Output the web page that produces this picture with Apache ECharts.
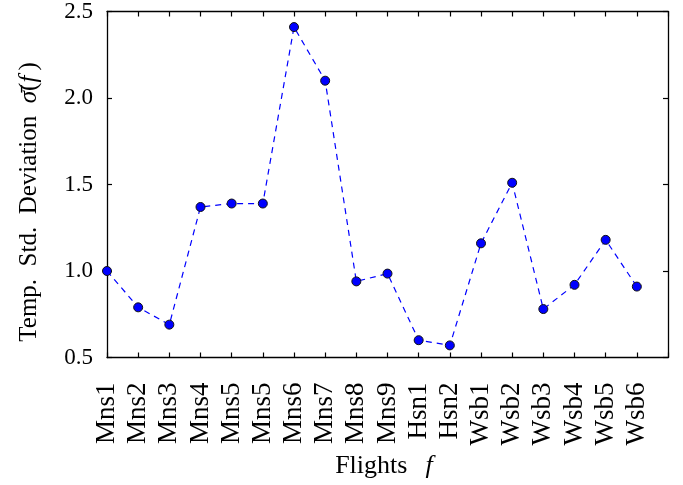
<!DOCTYPE html>
<html>
<head>
<meta charset="utf-8">
<script src="https://cdn.jsdelivr.net/npm/echarts@6/dist/echarts.min.js"></script>
<style>html,body{margin:0;padding:0;background:#fff}#c{width:683px;height:485px}</style>
</head>
<body>
<div id="c"></div>
<script>
var categories = ['Mns1','Mns2','Mns3','Mns4','Mns5','Mns5','Mns6','Mns7','Mns8','Mns9','Hsn1','Hsn2','Wsb1','Wsb2','Wsb3','Wsb4','Wsb5','Wsb6'];
var values = [1.00, 0.79, 0.69, 1.37, 1.39, 1.39, 2.41, 2.10, 0.94, 0.985, 0.60, 0.57, 1.16, 1.51, 0.78, 0.92, 1.18, 0.91];
var yTicks = { min: 0.5, max: 2.5, interval: 0.5 };
var xTitle = 'Flights';
var yTitleWords = ['Temp.', 'Std.', 'Deviation'];

var FONT = 'Liberation Serif';
var axisCats = categories.concat(['']);
var chart = echarts.init(document.getElementById('c'), null, {renderer: 'canvas'});
var lineSt = {show: true, lineStyle: {color: '#000', width: 1.3}};
var tickSt = {show: true, inside: true, length: 5, lineStyle: {color: '#000', width: 1.2}};
chart.setOption({
  animation: false,
  grid: {left: 107, right: 15, top: 7.5, bottom: 127.5},
  xAxis: [{
    type: 'category', data: axisCats, boundaryGap: false, position: 'bottom',
    axisLine: lineSt, axisTick: Object.assign({interval: 0}, tickSt),
    axisLabel: {interval: 0, rotate: 90, margin: 25, fontFamily: FONT, fontSize: 27, color: '#000'},
    splitLine: {show: false}
  }, {
    type: 'category', data: axisCats, boundaryGap: false, position: 'top',
    axisLine: lineSt, axisTick: Object.assign({interval: 0}, tickSt),
    axisLabel: {show: false}, splitLine: {show: false}
  }],
  yAxis: [{
    type: 'value', min: yTicks.min, max: yTicks.max, interval: yTicks.interval, position: 'left',
    axisLine: lineSt, axisTick: tickSt,
    axisLabel: {margin: 14, fontFamily: FONT, fontSize: 23, color: '#000', formatter: function(v){return v.toFixed(1);}},
    splitLine: {show: false}
  }, {
    type: 'value', min: yTicks.min, max: yTicks.max, interval: yTicks.interval, position: 'right',
    axisLine: lineSt, axisTick: tickSt, axisLabel: {show: false}, splitLine: {show: false}
  }],
  graphic: [{
    type: 'text', x: 29, y: 202, rotation: Math.PI/2,
    style: {
      text: '{n|' + yTitleWords.join('\u2002') + '\u2002}{i|\u03C3\u0304}{n|(}{i|f\u2009}{n|)}',
      align: 'center', verticalAlign: 'middle', fill: '#000',
      fontFamily: FONT, fontSize: 25,
      rich: {
        n: {fontFamily: FONT, fontSize: 25, fill: '#000'},
        i: {fontFamily: FONT, fontSize: 25, fontStyle: 'italic', fill: '#000'}
      }
    }
  }, {
    type: 'text', x: 384, y: 466,
    style: {
      text: '{n|' + xTitle + '}{n|\u2002\u2009}{i|f}',
      align: 'center', verticalAlign: 'middle', fill: '#000',
      fontFamily: FONT, fontSize: 26,
      rich: {
        n: {fontFamily: FONT, fontSize: 26, fill: '#000'},
        i: {fontFamily: FONT, fontSize: 26, fontStyle: 'italic', fill: '#000'}
      }
    }
  }],
  series: [{
    type: 'line', data: values, clip: false,
    symbol: 'circle', symbolSize: 9,
    lineStyle: {color: '#0000ff', width: 1.2, type: [6, 5]},
    itemStyle: {color: '#0000ff', borderColor: '#111', borderWidth: 1}
  }]
});
</script>
</body>
</html>
